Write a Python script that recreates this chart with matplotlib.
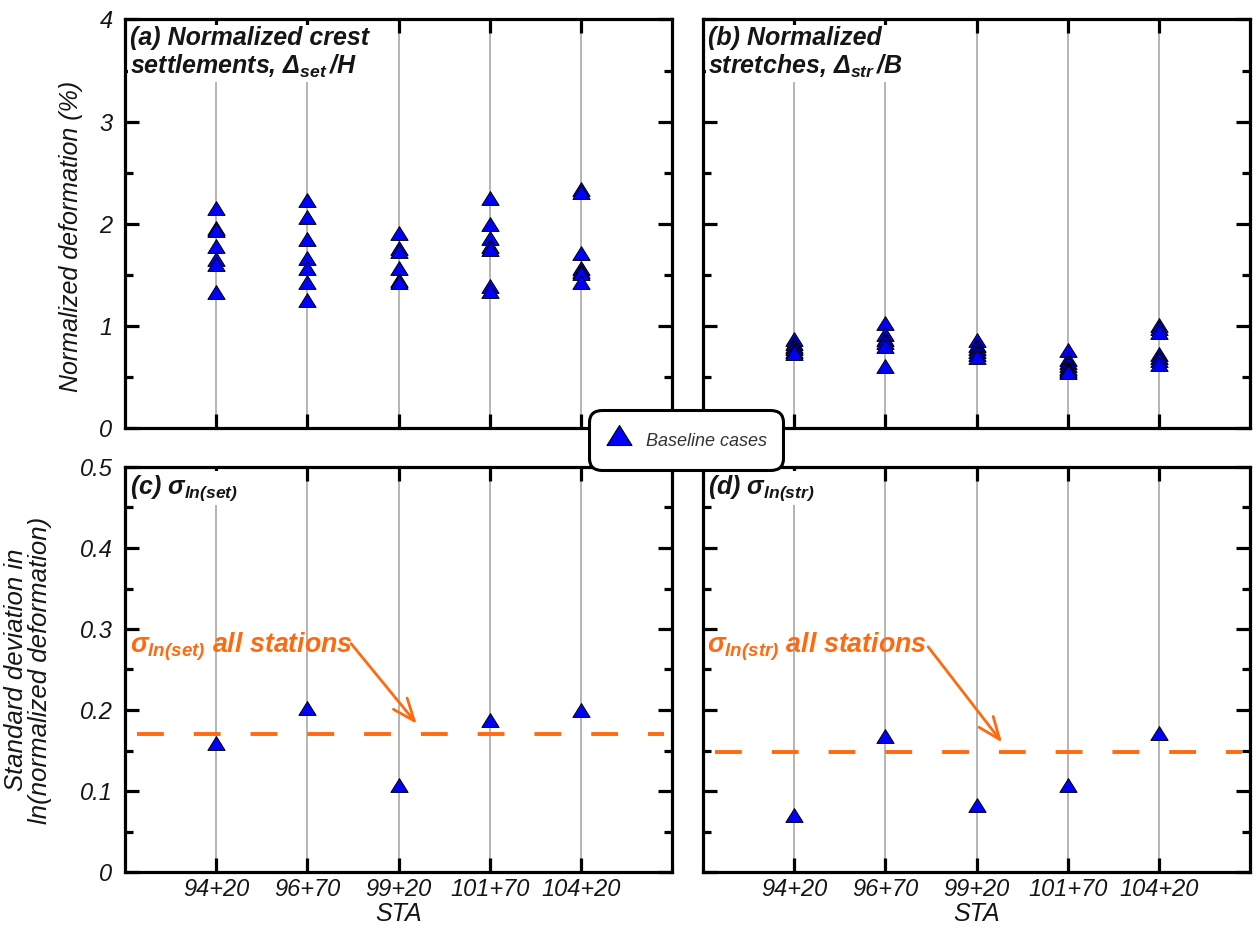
import matplotlib
matplotlib.use("Agg")
import matplotlib.pyplot as plt
from matplotlib.path import Path
from matplotlib.lines import Line2D
from matplotlib.ticker import MultipleLocator

plt.rcParams["font.family"] = ["Liberation Sans", "DejaVu Sans"]
plt.rcParams["mathtext.fontset"] = "custom"
for key in ("rm", "it", "bf", "sf"):
    plt.rcParams["mathtext." + key] = "Liberation Sans:bold:italic"

# ---- data -----------------------------------------------------------------
stations = ["94+20", "96+70", "99+20", "101+70", "104+20"]

# normalized crest settlement, Delta_set / H (%), baseline cases per station
crest_settlement = [
    [2.15, 1.96, 1.94, 1.78, 1.65, 1.61, 1.33],
    [2.23, 2.07, 1.85, 1.66, 1.57, 1.43, 1.25],
    [1.91, 1.76, 1.73, 1.57, 1.45, 1.43],
    [2.25, 2.00, 1.86, 1.78, 1.75, 1.39, 1.34],
    [2.34, 2.31, 1.71, 1.57, 1.54, 1.52, 1.43],
]

# normalized stretch, Delta_str / B (%), baseline cases per station
stretch = [
    [0.87, 0.83, 0.80, 0.78, 0.75, 0.73],
    [1.03, 0.92, 0.87, 0.84, 0.80, 0.61],
    [0.86, 0.81, 0.78, 0.75, 0.72, 0.70],
    [0.76, 0.68, 0.65, 0.62, 0.59, 0.57, 0.55],
    [1.01, 0.98, 0.94, 0.72, 0.70, 0.67, 0.63],
]

# standard deviation of ln(normalized deformation) per station
sigma_ln_set = [0.159, 0.202, 0.108, 0.188, 0.200]
sigma_ln_str = [0.070, 0.168, 0.083, 0.107, 0.172]
sigma_ln_set_all = 0.170
sigma_ln_str_all = 0.148

deform_ticks = [0, 1, 2, 3, 4]
deform_ticklabels = ["0", "1", "2", "3", "4"]
sigma_ticks = [0, 0.1, 0.2, 0.3, 0.4, 0.5]
sigma_ticklabels = ["0", "0.1", "0.2", "0.3", "0.4", "0.5"]

# ---- styling ----------------------------------------------------------------
BLUE = "#0000FF"
ORANGE = "#FF6A10"
INK = "#151515"
TRI = Path([(-1.0, -0.8), (1.0, -0.8), (0.0, 0.8), (-1.0, -0.8)],
           [Path.MOVETO, Path.LINETO, Path.LINETO, Path.CLOSEPOLY])

W, H = 1256, 930
fig = plt.figure(figsize=(W / 100, H / 100), dpi=100)


def px_axes(x0, y0, x1, y1):
    return fig.add_axes([x0 / W, 1 - y1 / H, (x1 - x0) / W, (y1 - y0) / H])


ax_a = px_axes(125, 19.5, 672, 428)
ax_b = px_axes(703, 19.5, 1250, 428)
ax_c = px_axes(125, 467, 672, 872)
ax_d = px_axes(703, 467, 1250, 872)

xpos = list(range(1, len(stations) + 1))


def style_axes(ax, ylim, yticks, yticklabels, minor, show_y, show_x):
    ax.set_xlim(0, 6)
    ax.set_ylim(*ylim)
    for sp in ax.spines.values():
        sp.set_linewidth(2.3)
        sp.set_color("black")
    ax.set_xticks(xpos)
    if show_x:
        ax.set_xticklabels(stations, fontsize=17, fontstyle="italic", color=INK)
    else:
        ax.set_xticklabels([])
    ax.set_yticks(yticks)
    if show_y:
        ax.set_yticklabels(yticklabels, fontsize=17, fontstyle="italic", color=INK)
    else:
        ax.set_yticklabels([])
    ax.yaxis.set_minor_locator(MultipleLocator(minor))
    ax.tick_params(which="both", direction="in", top=True, right=True,
                   width=2.3, color="black")
    ax.tick_params(which="major", length=10, pad=4)
    ax.tick_params(axis="y", which="major", pad=9)
    ax.tick_params(which="minor", length=6)
    ax.grid(axis="x", color="#a0a0a0", linewidth=1.1, zorder=0)
    ax.set_axisbelow(True)


def panel_title(ax, text):
    ax.text(0.009, 0.985, text, transform=ax.transAxes, ha="left", va="top",
            fontsize=18, fontweight="bold", fontstyle="italic", color=INK,
            linespacing=1.15, zorder=6,
            bbox=dict(facecolor="white", edgecolor="none", pad=1.5))


def plot_cases(ax, values):
    for x, vals in zip(xpos, values):
        ax.plot([x] * len(vals), vals, linestyle="none", marker=TRI,
                markersize=12.4, markerfacecolor=BLUE, markeredgecolor="black",
                markeredgewidth=0.7, zorder=4)


# (a) crest settlements
style_axes(ax_a, (0, 4), deform_ticks, deform_ticklabels, 0.5, True, False)
plot_cases(ax_a, crest_settlement)
panel_title(ax_a, "(a) Normalized crest\nsettlements, $\\Delta_{set}\\,$/H")
ax_a.set_ylabel("Normalized deformation (%)", fontsize=18, fontstyle="italic",
                color=INK)
ax_a.yaxis.set_label_coords(-0.077, 0.47)

# (b) stretches
style_axes(ax_b, (0, 4), deform_ticks, deform_ticklabels, 0.5, False, False)
plot_cases(ax_b, stretch)
panel_title(ax_b, "(b) Normalized\nstretches, $\\Delta_{str}\\,$/B")


def sigma_panel(ax, values, overall, title, note, text_xy, arrow_from, arrow_to,
                show_y):
    style_axes(ax, (0, 0.5), sigma_ticks, sigma_ticklabels, 0.05, show_y, True)
    ax.axhline(overall, xmin=0.022, xmax=0.985, color=ORANGE, linewidth=2.8,
               linestyle=(0, (6.9, 7.7)), zorder=3)
    ax.plot(xpos, values, linestyle="none", marker=TRI, markersize=12.4,
            markerfacecolor=BLUE, markeredgecolor="black",
            markeredgewidth=0.7, zorder=4)
    panel_title(ax, title)
    ax.text(text_xy[0], text_xy[1], note, ha="left", va="baseline",
            fontsize=19.3, fontweight="bold", fontstyle="italic", color=ORANGE,
            zorder=5)
    ax.annotate("", xy=arrow_to, xytext=arrow_from,
                arrowprops=dict(arrowstyle="->,head_length=0.8,head_width=0.32",
                                color=ORANGE, linewidth=2.0, mutation_scale=20,
                                shrinkA=0, shrinkB=0),
                zorder=5)
    ax.set_xlabel("STA", fontsize=18, fontstyle="italic", color=INK, labelpad=1)


# (c) sigma ln(set)
sigma_panel(ax_c, sigma_ln_set, sigma_ln_set_all, "(c) $\\sigma_{ln(set)}$",
            "$\\sigma_{ln(set)}$ all stations", (0.055, 0.271),
            (2.48, 0.282), (3.20, 0.183), True)
fig.text(28 / W, 1 - 670 / H,
         "Standard deviation in\nln(normalized deformation)",
         rotation=90, ha="center", va="center", multialignment="center",
         fontsize=18.5, fontstyle="italic", color=INK, linespacing=1.0)

# (d) sigma ln(str)
sigma_panel(ax_d, sigma_ln_str, sigma_ln_str_all, "(d) $\\sigma_{ln(str)}$",
            "$\\sigma_{ln(str)}$ all stations", (0.04, 0.271),
            (2.47, 0.278), (3.28, 0.160), False)

# shared legend between the panels
handle = Line2D([], [], linestyle="none", marker=TRI, markersize=18,
                markerfacecolor=BLUE, markeredgecolor="black",
                markeredgewidth=0.8)
leg = fig.legend([handle], ["Baseline cases"], loc="center",
                 bbox_to_anchor=(686 / W, 1 - 440 / H),
                 prop=dict(style="italic", size=13), frameon=True,
                 fancybox=True, framealpha=1, borderpad=0.85,
                 handlelength=1.55, handleheight=2.2, handletextpad=0.75,
                 borderaxespad=0)
leg.get_frame().set_edgecolor("black")
leg.get_frame().set_linewidth(2.2)
leg.get_frame().set_boxstyle("round", pad=0, rounding_size=0.7)
for t in leg.get_texts():
    t.set_color("#333333")

fig.savefig("out.png", dpi=100)
